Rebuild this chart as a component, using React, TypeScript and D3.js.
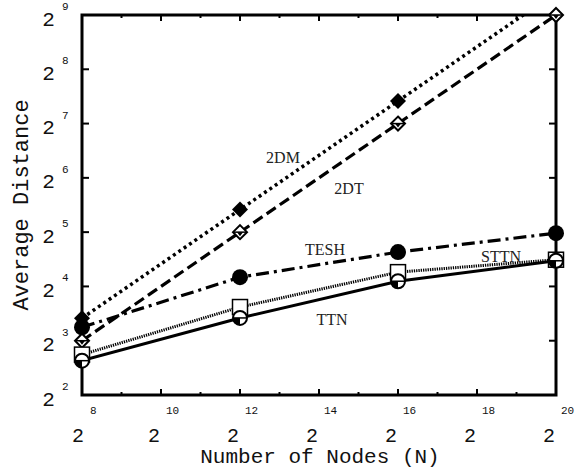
import React from 'react';
import * as d3 from 'd3';

// number of nodes, as powers of two
const nodeExps = [8, 12, 16, 20];
// average distance per topology
const dm2 = [10.67, 42.67, 170.67, 682.67];
const dt2 = [8, 32, 128, 512];
const tesh = [9.5, 18.0, 24.8, 31.6];
const sttn = [6.7, 12.3, 19.2, 22.5];
const ttn = [6.2, 10.7, 17.1, 22.2];

const xTickExps = [8, 10, 12, 14, 16, 18, 20];
const xMinorExps = [9, 11, 13, 15, 17, 19];
const yTickExps = [2, 3, 4, 5, 6, 7, 8, 9];

const labels = [
  { text: '2DM', x: 283, y: 157 },
  { text: '2DT', x: 349, y: 188 },
  { text: 'TESH', x: 325, y: 249 },
  { text: 'STTN', x: 501, y: 256 },
  { text: 'TTN', x: 332, y: 319 },
];

const margin = { left: 82, right: 556, top: 15, bottom: 395 };
const mono = '"Liberation Mono", "DejaVu Sans Mono", monospace';
const serif = '"Liberation Serif", "DejaVu Serif", serif';

const App = () => {
  const x = d3.scaleLog().base(2).domain([2 ** 8, 2 ** 20]).range([margin.left, margin.right]);
  const y = d3.scaleLog().base(2).domain([4, 512]).range([margin.bottom, margin.top]);

  const pts = (vals: number[]) => nodeExps.map((e, i) => [x(2 ** e), y(vals[i])] as [number, number]);
  const line = d3.line();

  const series = [
    { key: '2DM', vals: dm2, dash: '3 3.5', width: 3.5 },
    { key: '2DT', vals: dt2, dash: '11 5', width: 3.2 },
    { key: 'TESH', vals: tesh, dash: '13 5 3 5', width: 3.2 },
    { key: 'STTN', vals: sttn, dash: '1.3 1', width: 3 },
    { key: 'TTN', vals: ttn, dash: null, width: 3 },
  ];

  const inPlot = (p: [number, number]) => p[1] >= margin.top - 1;

  return (
    <svg width={577} height={469} style={{ position: 'absolute', left: 0, top: 0, background: '#fff' }}>
      <defs>
        <clipPath id="plot">
          <rect x={margin.left} y={margin.top} width={margin.right - margin.left} height={margin.bottom - margin.top} />
        </clipPath>
      </defs>

      {/* ticks */}
      <g stroke="#000" strokeWidth={2}>
        {yTickExps.map(k => (
          <g key={'yt' + k}>
            <line x1={margin.left} x2={margin.left + 7} y1={y(2 ** k)} y2={y(2 ** k)} />
            <line x1={margin.right} x2={margin.right - 7} y1={y(2 ** k)} y2={y(2 ** k)} />
          </g>
        ))}
        {xTickExps.map(k => (
          <g key={'xt' + k}>
            <line x1={x(2 ** k)} x2={x(2 ** k)} y1={margin.bottom} y2={margin.bottom - 6} />
            <line x1={x(2 ** k)} x2={x(2 ** k)} y1={margin.top} y2={margin.top + 6} />
          </g>
        ))}
        {xMinorExps.map(k => (
          <g key={'xm' + k}>
            <line x1={x(2 ** k)} x2={x(2 ** k)} y1={margin.bottom} y2={margin.bottom - 3} />
            <line x1={x(2 ** k)} x2={x(2 ** k)} y1={margin.top} y2={margin.top + 3} />
          </g>
        ))}
      </g>

      {/* lines */}
      <g clipPath="url(#plot)" fill="none" stroke="#000">
        {series.map(s => (
          <path key={s.key} d={line(pts(s.vals)) || ''} strokeWidth={s.width}
            strokeDasharray={s.dash || undefined} />
        ))}
      </g>

      {/* frame */}
      <rect x={margin.left} y={margin.top} width={margin.right - margin.left} height={margin.bottom - margin.top}
        fill="none" stroke="#000" strokeWidth={3} />

      {/* markers */}
      <g>
        {pts(tesh).map(([px, py], i) => (
          <circle key={'te' + i} cx={px} cy={py} r={8} fill="#000" />
        ))}
        {pts(dm2).filter(inPlot).map(([px, py], i) => (
          <path key={'dm' + i} d={`M${px},${py - 8}L${px + 8},${py}L${px},${py + 8}L${px - 8},${py}Z`} fill="#000" />
        ))}
        {pts(dt2).map(([px, py], i) => (
          <g key={'dt' + i}>
            <path d={`M${px},${py - 7}L${px + 7},${py}L${px},${py + 7}L${px - 7},${py}Z`} fill="#fff" stroke="#000" strokeWidth={2} />
            <path d={`M${px - 3},${py}L${px + 3},${py}L${px},${py + 4}Z`} fill="#000" />
            <line x1={px - 6} x2={px + 6} y1={py} y2={py} stroke="#000" strokeWidth={1.5} />
          </g>
        ))}
        {pts(sttn).map(([px, py], i) => (
          <rect key={'st' + i} x={px - 7.5} y={py - 7.5} width={15} height={15} fill="#fff" stroke="#000" strokeWidth={1.5} />
        ))}
        {pts(ttn).map(([px, py], i) => (
          <g key={'tt' + i}>
            <circle cx={px} cy={py} r={7} fill="#fff" stroke="#000" strokeWidth={2} />
            <path d={`M${px},${py}L${px - 7},${py}A7,7 0 0 0 ${px},${py + 7}Z`} fill="#000" />
            <line x1={px - 7} x2={px + 7} y1={py} y2={py} stroke="#000" strokeWidth={1.5} />
          </g>
        ))}
      </g>

      {/* series labels */}
      <g fontFamily={serif} fontSize={16} fill="#222" textAnchor="middle" dominantBaseline="central">
        {labels.map(l => (
          <text key={l.text} x={l.x} y={l.y}>{l.text}</text>
        ))}
      </g>

      {/* y tick labels */}
      <g fontFamily={mono} fill="#111">
        {yTickExps.map(k => (
          <g key={'yl' + k}>
            <text x={48.5} y={y(2 ** k) + 5} fontSize={21} textAnchor="middle" dominantBaseline="central">2</text>
            <text x={62} y={y(2 ** k) - 8} fontSize={11} dominantBaseline="central">{k}</text>
          </g>
        ))}
      </g>

      {/* x tick labels */}
      <g fontFamily={mono} fill="#111">
        {xTickExps.map(k => {
          const digits = String(k).length;
          const cx = x(2 ** k) - 1 - 3 * digits;
          return (
            <g key={'xl' + k}>
              <text x={cx} y={436} fontSize={20} textAnchor="middle" dominantBaseline="central">2</text>
              <text x={cx + 12} y={411} fontSize={11} dominantBaseline="central">{String(k)}</text>
            </g>
          );
        })}
      </g>

      {/* axis titles */}
      <text x={320} y={457} fontFamily={mono} fontSize={21} textAnchor="middle" dominantBaseline="central" fill="#111">
        Number of Nodes (N)
      </text>
      <text transform="translate(22,205) rotate(-90)" fontFamily={mono} fontSize={22} textAnchor="middle"
        dominantBaseline="central" fill="#111">
        Average Distance
      </text>
    </svg>
  );
};

export default App;
